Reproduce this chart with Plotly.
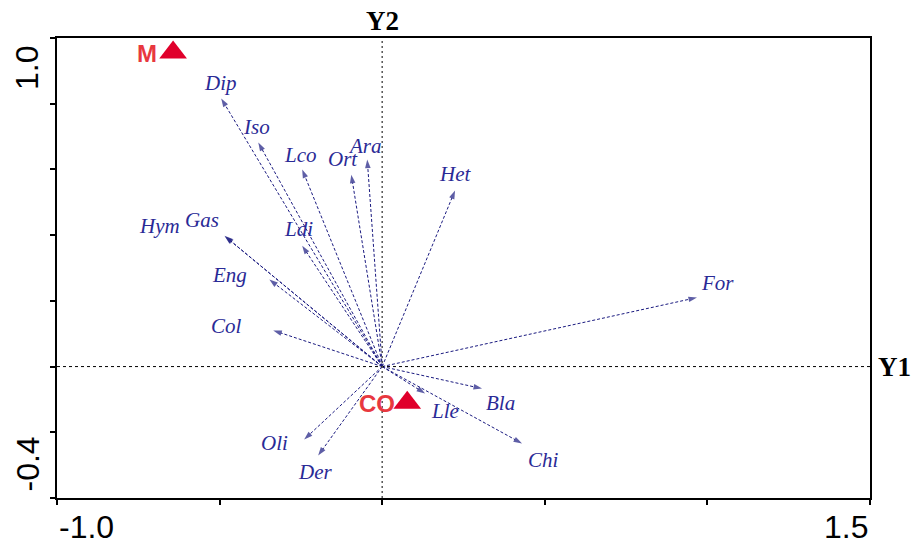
import plotly.graph_objects as go

# species arrows (biplot scores on axis 1 / axis 2)
species = ["Dip", "Iso", "Lco", "Ort", "Ara", "Het", "Hym", "Gas", "Ldi",
           "Eng", "Col", "Oli", "Der", "Lle", "Bla", "Chi", "For"]
ax1 = [-0.495, -0.381, -0.246, -0.095, -0.046, 0.224, -0.485, -0.483, -0.246,
       -0.347, -0.335, -0.240, -0.197, 0.132, 0.307, 0.430, 0.968]
ax2 = [0.816, 0.682, 0.600, 0.584, 0.630, 0.536, 0.398, 0.396, 0.368,
       0.265, 0.110, -0.222, -0.271, -0.082, -0.067, -0.234, 0.210]

# sample / treatment centroids
sites = ["M", "CO"]
site_x = [-0.643, 0.077]
site_y = [0.956, -0.110]

# label offsets in pixels (dx, dy up)
offsets = {
    "Dip": (-1, 15), "Iso": (-2, 15), "Lco": (-2, 14), "Ort": (-8, 16),
    "Ara": (-2, 14), "Het": (0, 16), "Hym": (-65, 10), "Gas": (-23, 16),
    "Ldi": (-4, 17), "Eng": (-40, 5), "Col": (-47, 4), "Oli": (-30, -3),
    "Der": (-3, -16), "Lle": (20, -17), "Bla": (18, -14), "Chi": (21, -17),
    "For": (21, 15),
}

navy = "#1a1a80"
red = "#e0002b"

fig = go.Figure()

for s, x, y in zip(species, ax1, ax2):
    fig.add_trace(go.Scatter(
        x=[0, x], y=[0, y],
        mode="lines+markers",
        line=dict(color=navy, width=1, dash="3px,2px"),
        marker=dict(symbol=["circle", "arrow"], size=[0, 9], color=navy,
                    angleref="previous", line=dict(width=0)),
        hoverinfo="skip", showlegend=False,
    ))
    dx, dy = offsets[s]
    fig.add_annotation(x=x, y=y, text=s, showarrow=False, xshift=dx, yshift=dy,
                       font=dict(family="Liberation Serif", size=21, color="#2a2a96",
                                 style="italic"))

fig.add_trace(go.Scatter(
    x=site_x, y=site_y, mode="markers",
    marker=dict(symbol="triangle-up", size=24, color=red),
    hoverinfo="skip", showlegend=False,
))
for s, x, y, dx in zip(sites, site_x, site_y, [-26, -30]):
    fig.add_annotation(x=x, y=y, text="<b>" + s + "</b>", showarrow=False,
                       xshift=dx, yshift=-1,
                       font=dict(family="Liberation Sans", size=24, color="#e8383f"))

# zero lines
fig.add_shape(type="line", x0=-1.0, x1=1.5, y0=0, y1=0,
              line=dict(color="black", width=1, dash="3px,3px"))
fig.add_shape(type="line", x0=0, x1=0, y0=-0.4, y1=1.0,
              line=dict(color="#555555", width=1.5, dash="2px,3px"))

# axis titles and range labels
axfont = dict(family="Liberation Serif", size=27, color="black")
fig.add_annotation(x=0, y=1, yref="paper", text="<b>Y2</b>", showarrow=False,
                   yanchor="bottom", yshift=0, font=axfont)
fig.add_annotation(x=1, y=0, xref="paper", text="<b>Y1</b>", showarrow=False,
                   xanchor="left", xshift=6, font=axfont)

numfont = dict(family="Liberation Sans", size=32, color="black")
fig.add_annotation(x=-1.0, y=0, yref="paper", text="-1.0", showarrow=False,
                   xanchor="left", yanchor="top", yshift=-9, font=numfont)
fig.add_annotation(x=1.5, y=0, yref="paper", text="1.5", showarrow=False,
                   xanchor="right", yanchor="top", yshift=-9, font=numfont)
fig.add_annotation(x=0, xref="paper", y=1.0, text="1.0", showarrow=False,
                   textangle=-90, xanchor="right", yanchor="top",
                   xshift=-10, yshift=-6, font=numfont)
fig.add_annotation(x=0, xref="paper", y=-0.4, text="-0.4", showarrow=False,
                   textangle=-90, xanchor="right", yanchor="bottom",
                   xshift=-10, yshift=4, font=numfont)

fig.update_xaxes(range=[-1.0, 1.5], dtick=0.5, tick0=-1.0, showgrid=False,
                 zeroline=False, showline=True, linecolor="black", linewidth=2,
                 mirror=True, ticks="outside", ticklen=5, tickwidth=1.5,
                 tickcolor="black", showticklabels=False)
fig.update_yaxes(range=[-0.4, 1.0], dtick=0.2, tick0=-0.4, showgrid=False,
                 zeroline=False, showline=True, linecolor="black", linewidth=2,
                 mirror=True, ticks="outside", ticklen=5, tickwidth=1.5,
                 tickcolor="black", showticklabels=False)

fig.update_layout(
    width=920, height=547,
    margin=dict(l=57, r=50, t=38, b=49),
    plot_bgcolor="white", paper_bgcolor="white",
)

# drop the page's default body margin so the figure sits at the window corner
fig.write_html("out.html", config={"displayModeBar": False},
               post_script="document.body.style.margin='0';")
